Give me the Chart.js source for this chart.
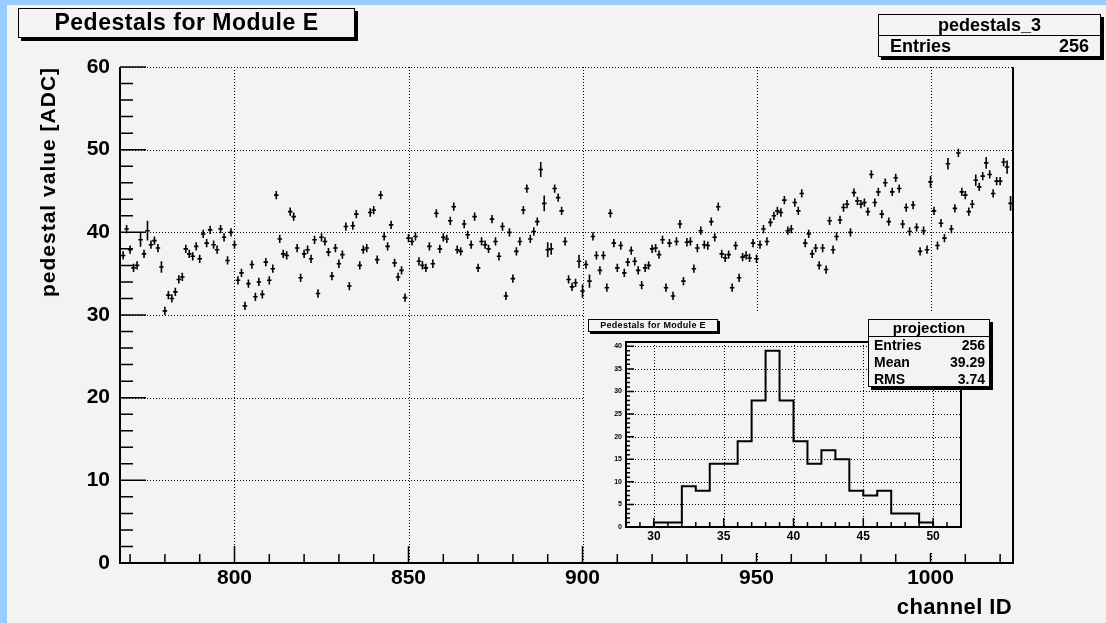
<!DOCTYPE html>
<html>
<head>
<meta charset="utf-8">
<title>Pedestals for Module E</title>
<script src="https://cdn.jsdelivr.net/npm/chart.js@4/dist/chart.umd.min.js"></script>
<style>
  html, body { margin: 0; padding: 0; }
  body {
    width: 1106px; height: 623px; position: relative; overflow: hidden;
    background: #99ccff;
    font-family: "Liberation Sans", Arial, sans-serif; font-weight: bold; color: #000;
  }
  #pad { position: absolute; left: 7px; top: 5px; right: 0; bottom: 0; background: #f3f3f3; }
  #main { position: absolute; left: 0; top: 0; }
  #inset { position: absolute; left: 584px; top: 313px; background: #f3f3f3; }
  .box {
    position: absolute; box-sizing: border-box; background: #f3f3f3;
    border: 1.5px solid #000; box-shadow: 3px 3px 0 #000; white-space: nowrap;
  }
  .row { display: flex; justify-content: space-between; box-sizing: border-box; }
  .label { position: absolute; white-space: nowrap; }
</style>
</head>
<body>
<div id="pad"></div>
<canvas id="main" width="1106" height="623"></canvas>
<canvas id="inset" width="428" height="240"></canvas>

<div class="box" style="left:18px;top:8px;width:337px;height:30px;font-size:23px;letter-spacing:0.5px;text-align:center;line-height:27px;" id="title"></div>

<div class="box" style="left:878px;top:14px;width:223px;height:43px;font-size:18px;">
  <div id="statsName" style="height:20px;line-height:20px;text-align:center;border-bottom:1.5px solid #000;"></div>
  <div class="row" id="statsMain" style="height:21px;line-height:21px;padding:0 11px 0 11px;"></div>
</div>

<div class="label" id="yTitle" style="left:48px;top:182px;font-size:21px;letter-spacing:1px;transform:translate(-50%,-50%) rotate(-90deg);"></div>
<div class="label" id="xTitle" style="right:94px;top:594px;font-size:22px;letter-spacing:0.4px;"></div>

<div class="box" style="left:588px;top:319px;width:130px;height:13px;font-size:9px;letter-spacing:0.3px;text-align:center;line-height:10px;box-shadow:2px 2px 0 #000;" id="insetTitle"></div>

<div class="box" style="left:868px;top:319px;width:122px;height:68px;font-size:14px;" id="projBox">
  <div id="projName" style="height:16px;line-height:15px;text-align:center;border-bottom:1.5px solid #000;font-size:15px;"></div>
</div>

<script>
// ---- data ----
const titleText = 'Pedestals for Module E';
const histName = 'pedestals_3';
const xTitleText = 'channel ID';
const yTitleText = 'pedestal value [ADC]';

const firstChannel = 768;
// pedestal per channel, 768 .. 1023
const pedestals = [
  37.2, 40.4, 37.9, 35.7, 36.0, 39.1, 37.4, 40.2, 38.5, 39.0, 38.1, 35.8, 30.5, 32.4, 32.0, 32.8, // 768
  34.3, 34.6, 38.0, 37.4, 37.1, 38.3, 36.8, 39.8, 38.7, 40.3, 38.5, 37.9, 40.4, 39.4, 36.6, 40.0, // 784
  38.5, 34.2, 35.1, 31.1, 33.8, 36.1, 32.2, 34.0, 32.5, 36.4, 34.2, 35.6, 44.5, 39.2, 37.4, 37.2, // 800
  42.5, 41.9, 38.1, 34.5, 37.4, 37.9, 36.8, 39.1, 32.6, 39.4, 38.9, 37.6, 34.7, 38.1, 36.2, 37.3, // 816
  40.7, 33.5, 40.8, 42.2, 36.0, 37.9, 38.1, 42.4, 42.7, 36.7, 44.5, 39.5, 38.3, 40.9, 36.3, 34.6, // 832
  35.4, 32.1, 39.3, 38.9, 39.5, 36.5, 36.0, 35.7, 38.3, 36.2, 42.3, 38.0, 39.4, 39.2, 41.4, 43.1, // 848
  37.9, 37.7, 41.0, 39.7, 38.5, 41.9, 35.7, 38.9, 38.5, 38.0, 41.6, 38.9, 37.1, 40.7, 32.3, 40.0, // 864
  34.4, 37.7, 38.9, 42.7, 45.3, 39.2, 40.1, 41.3, 47.6, 43.5, 37.9, 38.0, 45.3, 44.2, 42.6, 38.9, // 880
  34.3, 33.4, 33.9, 36.5, 32.9, 36.1, 34.1, 39.5, 37.2, 35.4, 37.2, 33.3, 42.3, 38.7, 35.7, 38.4, // 896
  35.1, 36.4, 37.8, 36.5, 35.4, 33.6, 35.7, 36.0, 38.0, 38.1, 37.3, 39.1, 33.3, 38.7, 32.3, 38.9, // 912
  41.0, 34.1, 38.8, 38.9, 35.6, 38.1, 40.2, 38.5, 38.4, 41.3, 39.4, 43.1, 37.4, 36.9, 37.3, 33.3, // 928
  38.4, 34.5, 37.0, 37.2, 36.9, 38.7, 36.8, 38.5, 40.4, 38.9, 41.2, 42.0, 42.6, 42.4, 43.9, 40.2, // 944
  40.4, 43.6, 42.6, 44.7, 38.7, 39.8, 37.4, 38.1, 36.0, 38.1, 35.5, 41.4, 37.9, 39.5, 41.5, 43.0, // 960
  43.4, 40.0, 44.8, 43.8, 43.4, 43.6, 42.5, 47.0, 43.6, 44.9, 42.2, 46.0, 41.3, 44.9, 46.6, 45.3, // 976
  41.0, 43.0, 40.1, 43.3, 40.6, 37.7, 40.2, 37.9, 46.1, 42.6, 38.4, 41.1, 39.3, 48.3, 40.4, 42.9, // 992
  49.6, 44.9, 44.5, 42.5, 43.4, 46.3, 45.5, 46.8, 48.4, 47.0, 44.7, 46.2, 46.2, 48.5, 47.9, 43.5  // 1008
];
const defaultError = 0.5;
// channels whose error bar is visibly longer: [channel, error]
const largeErrors = [
  [773, 0.85], [775, 1.2], [779, 0.7], [888, 0.9], [889, 0.95], [890, 0.9], [891, 0.7],
  [899, 0.8], [900, 0.8], [902, 0.8], [1000, 0.7], [1005, 0.7], [1013, 0.7], [1016, 0.7],
  [1022, 0.8], [1023, 0.9]
];
const xTicks = [800, 850, 900, 950, 1000];
const yTicks = [0, 10, 20, 30, 40, 50, 60];
const entries = '256';

// projection histogram (inset)
const projLow = 28;
const projCounts = [0, 0, 1, 1, 9, 8, 14, 14, 19, 28, 39, 28, 19, 14, 17, 15, 8, 7, 8, 3, 3, 1, 0, 0];
const projXTicks = [30, 35, 40, 45, 50];
const projYTicks = [0, 5, 10, 15, 20, 25, 30, 35, 40];
const projStats = [['Entries', '256'], ['Mean', '39.29'], ['RMS', '3.74']];

// ---- text boxes ----
document.getElementById('title').textContent = titleText;
document.getElementById('insetTitle').textContent = titleText;
document.getElementById('statsName').textContent = histName;
document.getElementById('statsMain').innerHTML = '<span>Entries</span><span>' + entries + '</span>';
document.getElementById('yTitle').textContent = yTitleText;
document.getElementById('xTitle').textContent = xTitleText;
document.getElementById('projName').textContent = 'projection';
const projBox = document.getElementById('projBox');
projStats.forEach(function (r) {
  const d = document.createElement('div');
  d.className = 'row';
  d.style.cssText = 'height:17px;line-height:17px;padding:0 4px 0 5px;';
  d.innerHTML = '<span>' + r[0] + '</span><span>' + r[1] + '</span>';
  projBox.appendChild(d);
});

Chart.defaults.font.family = '"Liberation Sans", Arial, sans-serif';
Chart.defaults.color = '#000';

const plainLabel = function (v) { return String(v); };

// ROOT-like frame: dotted grid, inward ticks, solid axes
function rootFrame(id, c) {
  return {
    id: id,
    beforeDatasetsDraw(chart) {
      const ctx = chart.ctx, a = chart.chartArea, x = chart.scales.x, y = chart.scales.y;
      ctx.save();
      ctx.strokeStyle = '#000';
      ctx.lineWidth = 1;
      ctx.setLineDash([1, 2]);
      ctx.beginPath();
      c.gridX.forEach(function (v) {
        const p = Math.round(x.getPixelForValue(v)) + 0.5;
        ctx.moveTo(p, a.top); ctx.lineTo(p, a.bottom);
      });
      c.gridY.forEach(function (v) {
        const p = Math.round(y.getPixelForValue(v)) + 0.5;
        ctx.moveTo(a.left, p); ctx.lineTo(a.right, p);
      });
      ctx.stroke();
      ctx.setLineDash([]);

      ctx.lineWidth = 1.5;
      ctx.beginPath();
      for (let v = Math.ceil(x.min / c.xMinor) * c.xMinor; v <= x.max; v += c.xMinor) {
        const p = x.getPixelForValue(v);
        const len = v % c.xMajor === 0 ? c.xMajLen : c.xMinLen;
        ctx.moveTo(p, a.bottom); ctx.lineTo(p, a.bottom - len);
      }
      for (let v = Math.ceil(y.min / c.yMinor) * c.yMinor; v <= y.max; v += c.yMinor) {
        const p = y.getPixelForValue(v);
        const len = v % c.yMajor === 0 ? c.yMajLen : c.yMinLen;
        ctx.moveTo(a.left, p); ctx.lineTo(a.left + len, p);
      }
      ctx.stroke();

      ctx.lineWidth = 2;
      ctx.beginPath();
      if (c.closed) {
        ctx.rect(a.left, a.top, a.right - a.left, a.bottom - a.top);
      } else {
        ctx.moveTo(a.left, a.top);
        ctx.lineTo(a.left, a.bottom);
        ctx.lineTo(a.right, a.bottom);
        ctx.lineTo(a.right, a.top);
      }
      ctx.stroke();
      ctx.restore();
    }
  };
}

// crosses: +-half channel horizontally, +-error vertically
const crosses = {
  id: 'crosses',
  afterDatasetsDraw(chart) {
    const ctx = chart.ctx, x = chart.scales.x, y = chart.scales.y;
    ctx.save();
    ctx.strokeStyle = '#000';
    ctx.lineWidth = 1.6;
    ctx.beginPath();
    chart.data.datasets[0].data.forEach(function (p) {
      const px = x.getPixelForValue(p.x), py = y.getPixelForValue(p.y);
      ctx.moveTo(x.getPixelForValue(p.x - 0.65), py);
      ctx.lineTo(x.getPixelForValue(p.x + 0.65), py);
      ctx.moveTo(px, y.getPixelForValue(p.y + p.err));
      ctx.lineTo(px, y.getPixelForValue(p.y - p.err));
    });
    ctx.stroke();
    ctx.restore();
  }
};

const errMap = {};
largeErrors.forEach(function (e) { errMap[e[0]] = e[1]; });
const points = pedestals.map(function (v, i) {
  const ch = firstChannel + i;
  return { x: ch, y: v, err: errMap[ch] || defaultError };
});

new Chart(document.getElementById('main'), {
  type: 'scatter',
  data: { datasets: [{ data: points, pointRadius: 0, showLine: false }] },
  options: {
    responsive: false,
    animation: false,
    layout: { padding: { left: 8, top: 67, right: 93, bottom: 8 } },
    plugins: { legend: { display: false }, tooltip: { enabled: false } },
    scales: {
      x: {
        type: 'linear', min: 767.1, max: 1023.7,
        afterBuildTicks: function (s) { s.ticks = xTicks.map(function (v) { return { value: v }; }); },
        afterFit: function (s) { s.height = 52; },
        grid: { display: false, drawTicks: false },
        border: { display: false },
        ticks: { font: { size: 21, weight: 'bold' }, padding: 3, maxRotation: 0, autoSkip: false, callback: plainLabel }
      },
      y: {
        min: 0, max: 60,
        afterBuildTicks: function (s) { s.ticks = yTicks.map(function (v) { return { value: v }; }); },
        afterFit: function (s) { s.width = 112; },
        grid: { display: false, drawTicks: false },
        border: { display: false },
        ticks: { font: { size: 21, weight: 'bold' }, padding: 10, callback: plainLabel }
      }
    }
  },
  plugins: [rootFrame('mainFrame', {
    gridX: xTicks, gridY: yTicks.slice(1),
    xMinor: 10, xMajor: 50, xMajLen: 17, xMinLen: 9,
    yMinor: 2, yMajor: 10, yMajLen: 26, yMinLen: 13,
    closed: false
  }), crosses]
});

// step outline of the projection histogram
const projData = projCounts.map(function (c, i) { return { x: projLow + i, y: c }; });
projData.push({ x: projLow + projCounts.length, y: 0 });

new Chart(document.getElementById('inset'), {
  type: 'line',
  data: {
    datasets: [{
      data: projData, stepped: 'before', borderColor: '#000', borderWidth: 2,
      pointRadius: 0, fill: false
    }]
  },
  options: {
    responsive: false,
    animation: false,
    layout: { padding: { left: 6, top: 29, right: 51, bottom: 6 } },
    plugins: { legend: { display: false }, tooltip: { enabled: false } },
    scales: {
      x: {
        type: 'linear', min: projLow, max: projLow + projCounts.length,
        afterBuildTicks: function (s) { s.ticks = projXTicks.map(function (v) { return { value: v }; }); },
        afterFit: function (s) { s.height = 20; },
        grid: { display: false, drawTicks: false },
        border: { display: false },
        ticks: { font: { size: 12, weight: 'bold' }, padding: 2, maxRotation: 0, autoSkip: false, callback: plainLabel }
      },
      y: {
        min: 0, max: 40.95,
        afterBuildTicks: function (s) { s.ticks = projYTicks.map(function (v) { return { value: v }; }); },
        afterFit: function (s) { s.width = 36; },
        grid: { display: false, drawTicks: false },
        border: { display: false },
        ticks: { font: { size: 7, weight: 'bold' }, padding: 4, callback: plainLabel }
      }
    }
  },
  plugins: [rootFrame('insetFrame', {
    gridX: projXTicks, gridY: projYTicks.slice(1),
    xMinor: 1, xMajor: 5, xMajLen: 9, xMinLen: 5,
    yMinor: 1, yMajor: 5, yMajLen: 8, yMinLen: 4,
    closed: true
  })]
});
</script>
</body>
</html>
